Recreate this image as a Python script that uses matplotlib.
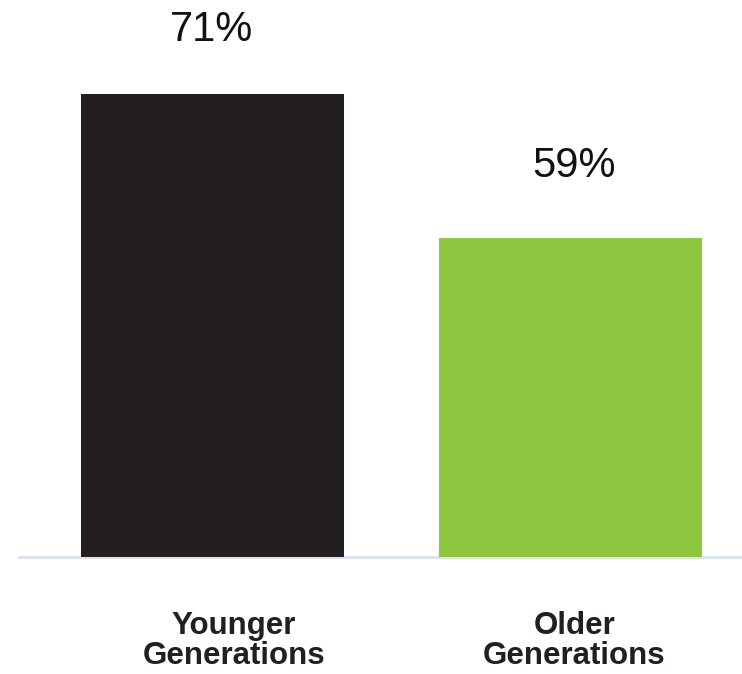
import matplotlib
matplotlib.use("Agg")
import matplotlib.pyplot as plt
from matplotlib.transforms import blended_transform_factory, offset_copy

# Share of respondents by generation group
categories = ["Younger\nGenerations", "Older\nGenerations"]
values = [71, 59]
value_labels = ["71%", "59%"]
bar_colors = ["#231f20", "#8dc63f"]

plt.rcParams["font.family"] = ["Liberation Sans", "DejaVu Sans"]

fig = plt.figure(figsize=(7.42, 6.74), dpi=100)
ax = fig.add_axes([19 / 742, 117 / 674, 723 / 742, 557 / 674])

x = list(range(len(values)))
ax.bar(x, values, width=0.735, color=bar_colors, zorder=2)

ax.set_xlim(-0.5405, 1.479)
ax.set_ylim(32.4, 78.8)
ax.axis("off")

# light baseline under the bars
ax.axhline(32.4, color="#dde3ea", lw=2.2, zorder=1, clip_on=False)

# value labels above each bar
label_dx = [-0.003, 0.011]
label_dy = [38.2, 43.9]
for xi, v, txt, dx, dy in zip(x, values, value_labels, label_dx, label_dy):
    ax.annotate(txt, (xi + dx, v), xytext=(0, dy), textcoords="offset points",
                ha="center", va="baseline", fontsize=30, color="#111111")

# category names below the baseline
cat_dx = [0.06, 0.011]
trans = blended_transform_factory(ax.transData, fig.transFigure)
for xi, name, dx in zip(x, categories, cat_dx):
    ax.text(xi + dx, (674 - 611) / 674, name, transform=trans, ha="center",
            va="top", fontsize=22.5, fontweight="bold", color="#231f20",
            linespacing=1.0, multialignment="center")

fig.savefig("out.png", dpi=100)
